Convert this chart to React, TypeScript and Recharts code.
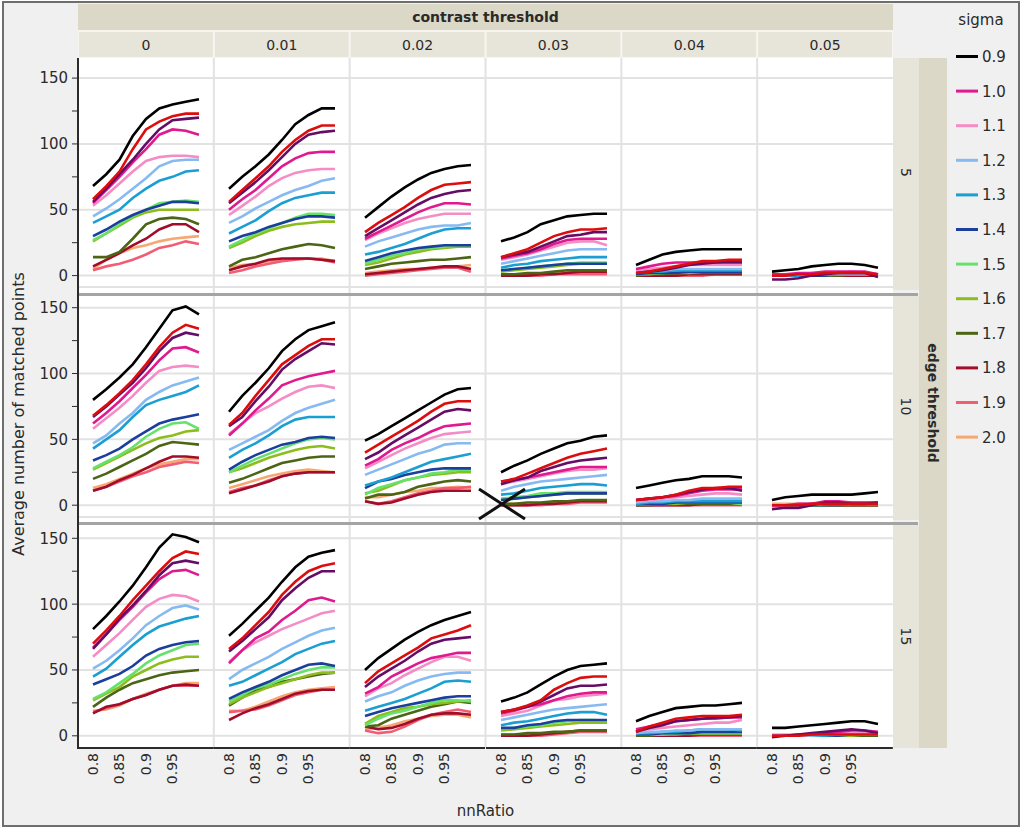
import React from 'react';
import { LineChart, Line, XAxis, YAxis, CartesianGrid } from 'recharts';

// ---------- categories / ticks ----------
const nnRatio = [0.8, 0.825, 0.85, 0.875, 0.9, 0.925, 0.95, 0.975, 1.0];
const contrastThresholds = ['0', '0.01', '0.02', '0.03', '0.04', '0.05'];
const edgeThresholds = ['5', '10', '15'];
const xTicks = [0.8, 0.85, 0.9, 0.95];
const xTickLabels = ['0.8', '0.85', '0.9', '0.95'];
const yTicks = [0, 25, 50, 75, 100, 125, 150];
const yLabeledTicks = [0, 50, 100, 150];
const gridValues = [0, 50, 100, 150];

// series order: 0.9, (red), (purple), 1.0, 1.1, 1.2, 1.3, 1.4, 1.5, 1.6, 1.7, 1.8, 1.9, 2.0
const seriesKeys = ['s09', 'sA', 'sB', 's10', 's11', 's12', 's13', 's14', 's15', 's16', 's17', 's18', 's19', 's20'];
const legendKeys = ['s09', 's10', 's11', 's12', 's13', 's14', 's15', 's16', 's17', 's18', 's19', 's20'];
const legendLabels = ['0.9', '1.0', '1.1', '1.2', '1.3', '1.4', '1.5', '1.6', '1.7', '1.8', '1.9', '2.0'];

// ---------- values: edge threshold 5 ----------
const p5_0 = [
  [68, 77, 88, 106, 119, 127, 130, 132, 134],
  [58, 68, 79, 96, 111, 117, 121, 123, 123],
  [56, 66, 77, 88, 100, 111, 118, 119, 120],
  [55, 65, 75, 86, 96, 107, 111, 110, 107],
  [53, 61, 70, 79, 87, 90, 91, 91, 90],
  [45, 51, 58, 66, 74, 83, 87, 88, 88],
  [40, 45, 50, 59, 66, 72, 75, 79, 80],
  [30, 35, 41, 46, 50, 53, 56, 56, 55],
  [27, 32, 39, 45, 50, 55, 56, 57, 56],
  [26, 32, 38, 44, 48, 50, 50, 50, 50],
  [14, 14, 18, 28, 39, 43, 44, 43, 39],
  [7, 12, 17, 23, 28, 35, 39, 39, 33],
  [4, 7, 9, 12, 16, 21, 23, 26, 24],
  [5, 12, 17, 21, 23, 26, 28, 29, 30],
];
const p5_1 = [
  [66, 75, 83, 92, 103, 115, 122, 127, 127],
  [56, 65, 74, 83, 94, 103, 110, 114, 114],
  [55, 63, 71, 80, 90, 100, 107, 109, 110],
  [50, 58, 65, 74, 83, 89, 93, 94, 94],
  [46, 53, 60, 68, 74, 78, 80, 81, 81],
  [40, 45, 51, 56, 61, 65, 68, 72, 74],
  [32, 37, 42, 49, 55, 59, 61, 63, 63],
  [26, 30, 33, 37, 40, 43, 45, 45, 44],
  [22, 27, 32, 36, 40, 44, 47, 47, 46],
  [21, 25, 30, 34, 37, 39, 40, 41, 41],
  [7, 12, 14, 17, 20, 22, 24, 23, 21],
  [4, 7, 9, 12, 13, 13, 13, 12, 11],
  [2, 4, 7, 9, 11, 12, 13, 12, 10],
  [6, 8, 9, 11, 12, 13, 13, 13, 11],
];
const p5_2 = [
  [44, 52, 60, 67, 73, 78, 81, 83, 84],
  [33, 40, 46, 52, 59, 65, 69, 70, 71],
  [30, 36, 42, 48, 54, 59, 62, 64, 65],
  [28, 33, 38, 43, 48, 52, 55, 55, 54],
  [27, 32, 36, 40, 43, 45, 47, 47, 47],
  [22, 26, 29, 32, 35, 37, 38, 38, 40],
  [16, 18, 21, 24, 28, 32, 35, 36, 36],
  [11, 14, 17, 19, 21, 22, 23, 23, 23],
  [9, 12, 15, 17, 20, 21, 22, 23, 23],
  [8, 10, 13, 16, 18, 20, 21, 22, 22],
  [5, 7, 9, 10, 11, 12, 12, 13, 14],
  [1, 2, 3, 4, 5, 6, 7, 7, 5],
  [0, 1, 2, 3, 4, 5, 6, 6, 3],
  [2, 3, 4, 5, 5, 6, 7, 7, 8],
];
const p5_3 = [
  [26, 29, 33, 39, 42, 45, 46, 47, 47],
  [14, 17, 20, 25, 30, 33, 35, 35, 36],
  [14, 16, 18, 22, 26, 30, 31, 33, 33],
  [13, 15, 17, 20, 24, 27, 28, 28, 28],
  [12, 14, 16, 19, 22, 25, 26, 26, 23],
  [9, 11, 13, 15, 17, 19, 20, 20, 20],
  [6, 8, 9, 11, 12, 13, 14, 14, 14],
  [4, 5, 6, 7, 8, 9, 9, 9, 9],
  [4, 5, 6, 7, 8, 9, 10, 10, 10],
  [3, 4, 5, 6, 7, 8, 9, 9, 9],
  [1, 1, 2, 2, 3, 4, 4, 4, 4],
  [0, 0, 0, 1, 1, 2, 3, 3, 3],
  [0, 0, 0, 0, 1, 1, 1, 1, 1],
  [1, 1, 1, 1, 2, 2, 3, 3, 3],
];
const p5_4 = [
  [8, 12, 16, 18, 19, 20, 20, 20, 20],
  [2, 3, 5, 7, 9, 11, 11, 12, 12],
  [2, 3, 4, 6, 8, 9, 10, 10, 10],
  [5, 7, 9, 10, 10, 10, 10, 11, 11],
  [4, 5, 6, 7, 8, 8, 8, 8, 8],
  [3, 4, 4, 5, 5, 5, 5, 5, 5],
  [2, 3, 3, 4, 4, 4, 4, 4, 4],
  [1, 2, 2, 2, 3, 3, 3, 3, 3],
  [1, 2, 2, 3, 3, 3, 3, 3, 3],
  [1, 1, 2, 2, 2, 3, 3, 3, 3],
  [0, 1, 1, 2, 2, 2, 2, 2, 2],
  [0, 0, 0, 0, 1, 1, 1, 1, 1],
  [0, 0, 0, 0, 0, 0, 1, 1, 1],
  [0, 0, 1, 1, 1, 1, 1, 1, 1],
];
const p5_5 = [
  [3, 4, 5, 7, 8, 9, 9, 8, 6],
  [0, 0, 1, 1, 2, 2, 2, 2, 1],
  [-3, -3, -2, 0, 1, 2, 2, 2, -1],
  [1, 1, 2, 2, 3, 3, 3, 3, 1],
  [1, 1, 1, 2, 2, 2, 3, 2, 1],
  [0, 0, 1, 1, 1, 1, 1, 1, 1],
  [0, 0, 0, 1, 1, 1, 1, 1, 1],
  [0, 0, 0, 0, 0, 1, 1, 1, 1],
  [0, 0, 0, 0, 1, 1, 1, 1, 1],
  [0, 0, 0, 0, 0, 1, 1, 1, 1],
  [0, 0, 0, 0, 0, 0, 1, 1, 0],
  [0, 0, 0, 0, 0, 0, 0, 0, 0],
  [0, 0, 0, 0, 0, 0, 0, 0, 0],
  [1, 1, 1, 1, 1, 1, 1, 1, 1],
];

// ---------- values: edge threshold 10 ----------
const p10_0 = [
  [80, 88, 97, 107, 120, 134, 148, 151, 145],
  [68, 76, 85, 95, 107, 120, 131, 137, 134],
  [67, 75, 84, 93, 104, 117, 127, 131, 129],
  [62, 70, 79, 89, 99, 110, 119, 120, 116],
  [58, 66, 74, 83, 93, 102, 105, 106, 105],
  [47, 53, 62, 70, 80, 86, 91, 94, 97],
  [43, 50, 57, 67, 76, 80, 83, 86, 91],
  [34, 38, 43, 50, 56, 62, 65, 67, 69],
  [28, 33, 38, 44, 52, 58, 62, 63, 58],
  [27, 32, 37, 42, 47, 51, 53, 56, 57],
  [20, 24, 29, 34, 39, 45, 48, 47, 46],
  [11, 14, 19, 23, 28, 33, 37, 37, 36],
  [11, 14, 18, 22, 25, 29, 31, 33, 32],
  [13, 16, 20, 24, 28, 31, 33, 35, 35],
];
const p10_1 = [
  [71, 83, 93, 104, 117, 126, 133, 136, 139],
  [61, 70, 83, 95, 107, 114, 121, 126, 126],
  [60, 67, 79, 90, 103, 111, 117, 123, 122],
  [53, 62, 72, 81, 91, 95, 98, 100, 102],
  [54, 62, 70, 75, 81, 86, 90, 91, 89],
  [42, 47, 52, 57, 64, 70, 74, 77, 80],
  [36, 42, 47, 53, 60, 65, 67, 67, 67],
  [27, 33, 38, 42, 46, 48, 51, 52, 51],
  [25, 30, 35, 39, 43, 47, 50, 51, 50],
  [25, 28, 32, 36, 39, 42, 44, 45, 43],
  [17, 20, 24, 28, 32, 34, 36, 37, 37],
  [9, 12, 15, 18, 22, 24, 25, 25, 25],
  [10, 13, 15, 19, 22, 24, 25, 25, 25],
  [13, 16, 19, 22, 24, 26, 27, 26, 25],
];
const p10_2 = [
  [49, 54, 60, 66, 72, 78, 84, 88, 89],
  [40, 46, 52, 58, 64, 71, 77, 79, 79],
  [35, 40, 47, 53, 59, 65, 71, 73, 72],
  [30, 35, 42, 47, 51, 56, 60, 61, 62],
  [28, 33, 38, 43, 47, 51, 54, 55, 56],
  [23, 27, 31, 35, 39, 42, 46, 47, 47],
  [15, 18, 21, 25, 29, 33, 35, 37, 39],
  [13, 18, 20, 23, 25, 27, 28, 28, 28],
  [8, 13, 16, 19, 21, 24, 25, 27, 27],
  [9, 11, 15, 19, 21, 23, 24, 25, 25],
  [5, 8, 8, 10, 14, 16, 18, 19, 18],
  [3, 1, 2, 5, 8, 10, 11, 11, 11],
  [3, 1, 3, 6, 9, 11, 13, 13, 14],
  [6, 6, 8, 10, 11, 13, 13, 14, 13],
];
const p10_3 = [
  [25, 30, 34, 39, 43, 47, 49, 52, 53],
  [18, 20, 24, 28, 32, 36, 39, 41, 43],
  [16, 19, 21, 26, 29, 32, 34, 35, 36],
  [18, 19, 21, 23, 25, 27, 29, 29, 29],
  [16, 18, 20, 22, 24, 26, 27, 27, 28],
  [11, 14, 16, 18, 19, 20, 21, 22, 23],
  [8, 9, 11, 13, 14, 15, 16, 16, 15],
  [4, 5, 6, 7, 8, 9, 9, 9, 9],
  [5, 6, 7, 9, 9, 10, 10, 10, 10],
  [4, 5, 6, 7, 8, 9, 9, 9, 9],
  [1, 1, 2, 2, 3, 3, 4, 4, 4],
  [0, 0, 0, 1, 1, 2, 3, 3, 3],
  [0, 0, 0, 0, 1, 1, 2, 2, 2],
  [1, 1, 1, 1, 2, 2, 3, 3, 4],
];
const p10_4 = [
  [13, 15, 17, 19, 20, 22, 22, 22, 21],
  [4, 5, 6, 8, 11, 13, 13, 14, 14],
  [4, 5, 6, 8, 10, 12, 13, 13, 11],
  [4, 5, 6, 7, 9, 11, 12, 12, 12],
  [3, 4, 5, 6, 7, 8, 9, 9, 8],
  [2, 3, 3, 4, 4, 5, 5, 5, 5],
  [1, 2, 2, 3, 3, 3, 3, 3, 3],
  [1, 1, 1, 2, 2, 2, 2, 2, 2],
  [1, 1, 2, 2, 2, 2, 2, 2, 1],
  [1, 1, 1, 1, 2, 2, 2, 2, 1],
  [0, 0, 1, 1, 1, 1, 1, 1, 1],
  [0, 0, 0, 0, 0, 1, 1, 1, 1],
  [0, 0, 0, 0, 0, 0, 0, 0, 0],
  [1, 1, 1, 1, 1, 1, 1, 1, 1],
];
const p10_5 = [
  [4, 6, 7, 8, 8, 8, 8, 9, 10],
  [0, 0, 0, 1, 1, 1, 1, 1, 1],
  [-3, -2, -2, 0, 2, 2, 1, 1, 2],
  [0, 0, 1, 1, 3, 3, 2, 2, 2],
  [0, 0, 1, 1, 2, 2, 2, 2, 2],
  [0, 0, 0, 1, 1, 1, 1, 1, 1],
  [0, 0, 0, 0, 1, 1, 1, 1, 1],
  [0, 0, 0, 0, 0, 0, 1, 1, 1],
  [0, 0, 0, 0, 0, 1, 1, 1, 1],
  [0, 0, 0, 0, 0, 0, 1, 1, 1],
  [0, 0, 0, 0, 0, 0, 0, 0, 0],
  [0, 0, 0, 0, 0, 0, 0, 0, 0],
  [0, 0, 0, 0, 0, 0, 0, 0, 0],
  [1, 1, 1, 1, 1, 1, 1, 1, 1],
];

// ---------- values: edge threshold 15 ----------
const p15_0 = [
  [81, 91, 102, 114, 128, 143, 153, 151, 147],
  [70, 80, 91, 103, 114, 125, 135, 140, 138],
  [66, 77, 89, 99, 110, 122, 131, 133, 131],
  [67, 77, 88, 98, 109, 119, 125, 126, 122],
  [60, 69, 78, 88, 98, 104, 107, 106, 102],
  [51, 57, 65, 74, 84, 91, 97, 99, 96],
  [45, 51, 60, 69, 77, 83, 86, 89, 91],
  [39, 43, 47, 53, 61, 66, 69, 71, 72],
  [28, 33, 40, 47, 55, 61, 65, 69, 70],
  [27, 32, 37, 45, 50, 55, 58, 60, 60],
  [22, 29, 35, 40, 43, 46, 48, 49, 50],
  [17, 22, 24, 28, 31, 35, 38, 39, 38],
  [18, 21, 24, 28, 31, 35, 38, 38, 38],
  [19, 20, 23, 28, 32, 35, 38, 40, 40],
];
const p15_1 = [
  [76, 85, 95, 105, 117, 128, 136, 139, 141],
  [66, 74, 84, 94, 107, 117, 125, 129, 131],
  [64, 72, 81, 90, 103, 112, 120, 125, 125],
  [55, 65, 74, 79, 88, 95, 103, 105, 102],
  [56, 65, 71, 76, 81, 85, 89, 93, 95],
  [43, 50, 55, 60, 66, 71, 76, 80, 82],
  [38, 41, 46, 51, 56, 62, 66, 70, 72],
  [28, 33, 37, 41, 46, 50, 54, 55, 53],
  [26, 31, 36, 39, 43, 47, 50, 52, 52],
  [24, 29, 33, 37, 40, 43, 46, 48, 48],
  [23, 29, 35, 37, 41, 43, 45, 47, 48],
  [12, 17, 21, 24, 28, 32, 34, 35, 35],
  [18, 19, 20, 23, 27, 31, 33, 35, 35],
  [19, 19, 22, 26, 30, 33, 35, 36, 37],
];
const p15_2 = [
  [50, 59, 66, 73, 79, 84, 88, 91, 94],
  [40, 49, 55, 61, 67, 74, 77, 80, 84],
  [37, 45, 51, 57, 64, 70, 73, 74, 75],
  [32, 37, 45, 50, 55, 59, 61, 63, 63],
  [30, 36, 40, 46, 51, 56, 60, 60, 57],
  [26, 30, 33, 38, 42, 45, 47, 48, 48],
  [19, 22, 25, 28, 32, 36, 41, 42, 41],
  [15, 18, 21, 23, 25, 27, 29, 30, 30],
  [8, 13, 17, 19, 22, 25, 27, 27, 26],
  [9, 15, 18, 21, 22, 24, 25, 26, 27],
  [7, 8, 13, 16, 19, 22, 24, 26, 25],
  [7, 5, 6, 9, 13, 16, 17, 17, 16],
  [4, 2, 3, 7, 12, 16, 18, 20, 18],
  [5, 6, 8, 11, 13, 15, 16, 16, 14],
];
const p15_3 = [
  [26, 29, 33, 39, 45, 50, 53, 54, 55],
  [18, 20, 23, 27, 35, 40, 44, 45, 45],
  [18, 20, 22, 26, 31, 36, 38, 38, 39],
  [17, 19, 22, 24, 27, 30, 32, 33, 33],
  [15, 17, 19, 23, 27, 28, 30, 31, 32],
  [12, 14, 16, 18, 20, 21, 22, 23, 24],
  [8, 10, 11, 13, 15, 17, 18, 18, 16],
  [6, 6, 8, 9, 11, 12, 12, 12, 12],
  [5, 6, 7, 8, 10, 11, 12, 12, 11],
  [4, 5, 6, 7, 8, 9, 10, 10, 10],
  [1, 1, 2, 2, 3, 3, 4, 4, 4],
  [0, 0, 0, 1, 2, 3, 4, 4, 4],
  [0, 0, 0, 0, 1, 2, 3, 3, 3],
  [1, 1, 1, 1, 2, 3, 4, 4, 4],
];
const p15_4 = [
  [11, 15, 18, 21, 22, 23, 23, 24, 25],
  [3, 7, 10, 13, 14, 15, 15, 15, 16],
  [3, 6, 8, 11, 12, 13, 14, 14, 15],
  [5, 7, 9, 11, 12, 13, 13, 14, 14],
  [4, 5, 6, 7, 8, 9, 10, 10, 12],
  [2, 3, 3, 4, 4, 5, 5, 5, 5],
  [2, 2, 3, 3, 4, 5, 5, 5, 4],
  [1, 1, 2, 2, 2, 3, 3, 3, 3],
  [1, 1, 1, 2, 2, 2, 2, 2, 2],
  [1, 1, 1, 1, 2, 2, 2, 2, 2],
  [0, 0, 1, 1, 1, 1, 1, 1, 1],
  [0, 0, 0, 0, 0, 1, 1, 1, 1],
  [0, 0, 0, 0, 0, 0, 0, 0, 0],
  [1, 1, 1, 1, 1, 1, 1, 1, 1],
];
const p15_5 = [
  [6, 6, 7, 8, 9, 10, 11, 11, 9],
  [0, 0, 0, 1, 1, 1, 1, 1, 1],
  [-1, 0, 1, 2, 3, 4, 5, 4, 2],
  [0, 0, 1, 1, 2, 3, 4, 4, 3],
  [0, 0, 0, 1, 1, 2, 2, 2, 2],
  [0, 0, 0, 0, 1, 1, 1, 1, 1],
  [0, 0, 0, 0, 0, 1, 1, 1, 1],
  [0, 0, 0, 0, 0, 0, 1, 1, 1],
  [0, 0, 0, 0, 0, 0, 1, 1, 1],
  [0, 0, 0, 0, 0, 0, 0, 1, 1],
  [0, 0, 0, 0, 0, 0, 0, 0, 0],
  [0, 0, 0, 0, 0, 0, 0, 0, 0],
  [0, 0, 0, 0, 0, 0, 0, 0, 0],
  [1, 1, 1, 1, 1, 1, 1, 1, 1],
];

const PANELS = [
  [p5_0, p5_1, p5_2, p5_3, p5_4, p5_5],
  [p10_0, p10_1, p10_2, p10_3, p10_4, p10_5],
  [p15_0, p15_1, p15_2, p15_3, p15_4, p15_5],
];

// ---------- styles ----------
const COLORS: Record<string, string> = {
  s09: '#000000',
  sA: '#dd0d0d',
  sB: '#640c66',
  s10: '#e0198f',
  s11: '#f58cc6',
  s12: '#86baf0',
  s13: '#1b9fd2',
  s14: '#1c3f9e',
  s15: '#66e26c',
  s16: '#8dbd1c',
  s17: '#4b6514',
  s18: '#a00d2a',
  s19: '#f25c74',
  s20: '#f6a872',
};

const FONT = '"DejaVu Sans", Verdana, sans-serif';
const TEXT = '#2a2a2a';

// ---------- layout ----------
const PLOT_LEFT = 78;
const PLOT_RIGHT = 893;
const COL_W = (PLOT_RIGHT - PLOT_LEFT) / 6;
const ROWS = [
  { top: 58, bottom: 287, zero: 275.6 },
  { top: 296, bottom: 517, zero: 505.2 },
  { top: 525, bottom: 748, zero: 735.8 },
];
const PX_PER_Y = 1.3167;
const PX_PER_X = 530;
const X_OFFSET = 15;
const Y_AXIS_W = 50;
const X_AXIS_H = 60;

const XTick = (props: any) => {
  const { x, payload, top } = props;
  const idx = xTicks.indexOf(payload.value);
  const label = idx >= 0 ? xTickLabels[idx] : String(payload.value);
  return (
    <text
      x={x}
      y={top}
      dy="0.35em"
      transform={`rotate(-90, ${x}, ${top})`}
      textAnchor="end"
      fontSize={14}
      fill={TEXT}
      fontFamily={FONT}
    >
      {label}
    </text>
  );
};

const YTick = (props: any) => {
  const { y, payload, axisX } = props;
  if (!yLabeledTicks.includes(payload.value)) return <g />;
  return (
    <text x={axisX - 10} y={y} dy="0.36em" textAnchor="end" fontSize={15} fill={TEXT} fontFamily={FONT}>
      {payload.value}
    </text>
  );
};

function Panel({ r, c }: { r: number; c: number }) {
  const row = ROWS[r];
  const values = PANELS[r][c];
  const data = nnRatio.map((x, i) => {
    const o: Record<string, number> = { x };
    seriesKeys.forEach((k, s) => {
      o[k] = values[s][i];
    });
    return o;
  });
  const showY = c === 0;
  const showX = r === 2;
  const plotH = row.bottom - row.top;
  const left = PLOT_LEFT + c * COL_W - (showY ? Y_AXIS_W : 0);
  const width = COL_W + (showY ? Y_AXIS_W : 0);
  const height = plotH + (showX ? X_AXIS_H : 0);
  const yDomain = [-(row.bottom - row.zero) / PX_PER_Y, (row.zero - row.top) / PX_PER_Y];
  const xDomain = [0.8 - X_OFFSET / PX_PER_X, 0.8 + (COL_W - X_OFFSET) / PX_PER_X];
  return (
    <div style={{ position: 'absolute', left, top: row.top, width, height }}>
      <LineChart width={width} height={height} data={data} margin={{ top: 0, right: 0, bottom: 0, left: 0 }}>
        <CartesianGrid vertical={false} horizontalValues={gridValues} stroke="#e2e2e2" strokeWidth={2} />
        <XAxis
          dataKey="x"
          type="number"
          domain={xDomain}
          allowDataOverflow
          hide={!showX}
          ticks={xTicks}
          interval={0}
          height={X_AXIS_H}
          tickLine={false}
          axisLine={{ stroke: '#2b2b2b', strokeWidth: 2 }}
          tick={(p: any) => <XTick {...p} top={plotH + 5} />}
        />
        <YAxis
          type="number"
          domain={yDomain}
          allowDataOverflow
          hide={!showY}
          ticks={yTicks}
          interval={0}
          width={Y_AXIS_W}
          tickSize={6}
          tickLine={{ stroke: '#2b2b2b', strokeWidth: 1 }}
          axisLine={{ stroke: '#2b2b2b', strokeWidth: 2 }}
          tick={(p: any) => <YTick {...p} axisX={Y_AXIS_W} />}
        />
        {[...seriesKeys].reverse().map((k) => (
          <Line
            key={k}
            dataKey={k}
            type="linear"
            stroke={COLORS[k]}
            strokeWidth={2.6}
            dot={false}
            activeDot={false}
            isAnimationActive={false}
          />
        ))}
      </LineChart>
    </div>
  );
}

export default function App() {
  const cells: React.ReactNode[] = [];
  ROWS.forEach((_, r) => contrastThresholds.forEach((__, c) => cells.push(<Panel key={`${r}-${c}`} r={r} c={c} />)));
  return (
    <div
      style={{
        position: 'absolute',
        left: 0,
        top: 0,
        width: 1024,
        height: 829,
        overflow: 'hidden',
        background: '#ffffff',
        fontFamily: FONT,
      }}
    >
      <svg width={1024} height={829} style={{ position: 'absolute', left: 0, top: 0 }} fontFamily={FONT}>
        <rect x={3} y={2} width={1016} height={824} fill="#f0f0f0" stroke="#6e6e6e" strokeWidth={2} />
        {/* top strip */}
        <rect x={PLOT_LEFT} y={4} width={PLOT_RIGHT - PLOT_LEFT} height={26} fill="#dbd8c8" />
        <text x={(PLOT_LEFT + PLOT_RIGHT) / 2} y={22} textAnchor="middle" fontWeight="bold" fontSize={14} fill={TEXT}>
          contrast threshold
        </text>
        <rect x={PLOT_LEFT} y={30} width={PLOT_RIGHT - PLOT_LEFT} height={28} fill="#f6f5f0" />
        {contrastThresholds.map((t, c) => (
          <g key={t}>
            <rect x={PLOT_LEFT + c * COL_W + 1} y={32} width={COL_W - 2} height={25} fill="#e7e5da" />
            <text x={PLOT_LEFT + c * COL_W + COL_W / 2} y={49.5} textAnchor="middle" fontSize={14} fill={TEXT}>
              {t}
            </text>
          </g>
        ))}
        {/* panel background */}
        <rect x={PLOT_LEFT} y={58} width={PLOT_RIGHT - PLOT_LEFT} height={690} fill="#ffffff" />
        {contrastThresholds.slice(1).map((t, i) => (
          <line
            key={t}
            x1={PLOT_LEFT + (i + 1) * COL_W}
            x2={PLOT_LEFT + (i + 1) * COL_W}
            y1={58}
            y2={748}
            stroke="#e2e2e2"
            strokeWidth={2}
          />
        ))}
        {ROWS.slice(0, 2).map((row, i) => (
          <line key={i} x1={PLOT_LEFT} x2={PLOT_RIGHT} y1={row.bottom} y2={row.bottom} stroke="#e2e2e2" strokeWidth={2} />
        ))}
        {/* row strips */}
        {edgeThresholds.map((e, r) => {
          const row = ROWS[r];
          const cy = (row.top + row.bottom) / 2;
          return (
            <g key={e}>
              <rect x={PLOT_RIGHT} y={row.top} width={26} height={row.bottom - row.top + (r === 2 ? 0 : 3)} fill="#e7e5da" />
              <text
                x={906}
                y={cy}
                dy="0.35em"
                transform={`rotate(90, 906, ${cy})`}
                textAnchor="middle"
                fontSize={14}
                fill={TEXT}
              >
                {e}
              </text>
            </g>
          );
        })}
        <rect x={919} y={58} width={28} height={690} fill="#dbd8c8" />
        <text
          x={933}
          y={403}
          dy="0.35em"
          transform="rotate(90, 933, 403)"
          textAnchor="middle"
          fontWeight="bold"
          fontSize={14}
          fill={TEXT}
        >
          edge threshold
        </text>
        {/* legend */}
        <text x={981} y={25} textAnchor="middle" fontSize={15} fill={TEXT}>
          sigma
        </text>
        {legendKeys.map((k, i) => {
          const cy = 56.5 + i * 34.6;
          return (
            <g key={k}>
              <line x1={956} x2={978} y1={cy} y2={cy} stroke={COLORS[k]} strokeWidth={3} />
              <text x={982} y={cy} dy="0.36em" fontSize={15} fill={TEXT}>
                {legendLabels[i]}
              </text>
            </g>
          );
        })}
        {/* axis titles */}
        <text
          x={18}
          y={414}
          dy="0.35em"
          transform="rotate(-90, 18, 414)"
          textAnchor="middle"
          fontSize={16}
          fill={TEXT}
        >
          Average number of matched points
        </text>
        <text x={(PLOT_LEFT + PLOT_RIGHT) / 2} y={816} textAnchor="middle" fontSize={15} fill={TEXT}>
          nnRatio
        </text>
      </svg>
      {cells}
      <svg width={1024} height={829} style={{ position: 'absolute', left: 0, top: 0, pointerEvents: 'none' }}>
        <line x1={PLOT_LEFT} x2={918} y1={294.5} y2={294.5} stroke="#a4a4a4" strokeWidth={3} />
        <line x1={PLOT_LEFT} x2={918} y1={523.5} y2={523.5} stroke="#a4a4a4" strokeWidth={3} />
        <line x1={PLOT_LEFT} x2={PLOT_LEFT} y1={58} y2={749} stroke="#2b2b2b" strokeWidth={2} />
        <line x1={479} y1={489} x2={525} y2={519} stroke="#111111" strokeWidth={3} />
        <line x1={479} y1={519} x2={525} y2={489} stroke="#111111" strokeWidth={3} />
      </svg>
    </div>
  );
}
